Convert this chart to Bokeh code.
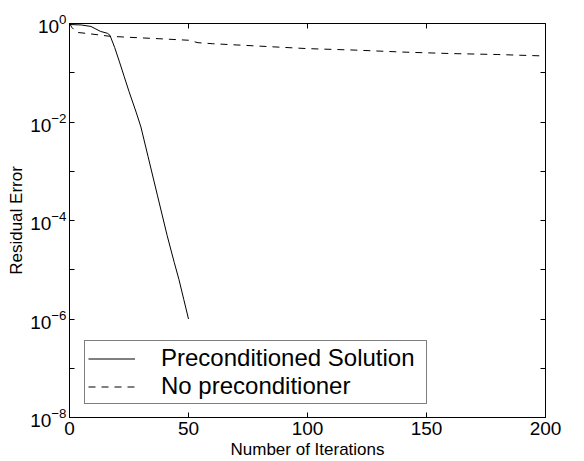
from bokeh.plotting import figure
from bokeh.models import FixedTicker, LinearAxis, LogAxis, Legend, LegendItem, Range1d
from bokeh.embed import file_html
from bokeh.resources import INLINE

# Preconditioned solution: iteration, log10(residual)
pre_iter = [0, 5, 9, 13, 16, 17, 19, 21, 23, 25, 28, 30, 33, 37, 41, 44, 46, 48, 50]
pre_log = [-0.02, -0.03, -0.06, -0.16, -0.2, -0.24, -0.49, -0.78, -1.08, -1.38, -1.8, -2.1, -2.7, -3.5, -4.3, -4.85, -5.2, -5.6, -6.0]

# No preconditioner
nop_iter = [0, 1, 3, 7, 17, 25, 38, 50, 54, 60, 80, 100, 120, 140, 160, 180, 200]
nop_log = [0.0, -0.08, -0.18, -0.2, -0.26, -0.28, -0.31, -0.34, -0.39, -0.41, -0.46, -0.51, -0.54, -0.58, -0.61, -0.63, -0.66]

x_ticks = [0, 50, 100, 150, 200]
y_major = [1e-8, 1e-6, 1e-4, 1e-2, 1e0]
y_minor = [1e-7, 1e-5, 1e-3, 1e-1]

pre_y = [10 ** v for v in pre_log]
nop_y = [10 ** v for v in nop_log]

FONT = "Liberation Sans"

p = figure(width=584, height=461, y_axis_type="log", output_backend="svg",
           toolbar_location=None, x_range=Range1d(0, 200), y_range=Range1d(1e-8, 1),
           min_border_left=69, min_border_right=39, min_border_top=23, min_border_bottom=44,
           background_fill_color="white", border_fill_color="white")
p.grid.visible = False
p.outline_line_color = "black"
p.outline_line_width = 1

r1 = p.line(pre_iter, pre_y, line_color="black", line_width=1)
r2 = p.line(nop_iter, nop_y, line_color="black", line_width=1, line_dash="7 6")

xa = p.xaxis[0]
xa.ticker = FixedTicker(ticks=x_ticks)
xa.axis_label = "Number of Iterations"
ya = p.yaxis[0]
ya.ticker = FixedTicker(ticks=y_major, minor_ticks=y_minor)
ya.axis_label = "Residual Error"

for ax in (xa, ya):
    ax.major_tick_in = 5
    ax.major_tick_out = 0
    ax.minor_tick_in = 5
    ax.minor_tick_out = 0
    ax.axis_line_color = "black"
    ax.major_label_text_font = FONT
    ax.major_label_text_font_size = "19px"
    ax.major_label_text_color = "black"
    ax.axis_label_text_font = FONT
    ax.axis_label_text_font_size = "17px"
    ax.axis_label_text_font_style = "normal"
    ax.axis_label_text_color = "black"
xa.minor_tick_line_color = None
xa.major_label_standoff = 4
xa.axis_label_standoff = 2
ya.major_label_standoff = 3
ya.axis_label_standoff = 1

top = LinearAxis(ticker=FixedTicker(ticks=[50, 100, 150]))
right = LogAxis(ticker=FixedTicker(ticks=y_major[1:-1], minor_ticks=y_minor))
for ax in (top, right):
    ax.major_tick_in = 5
    ax.major_tick_out = 0
    ax.minor_tick_in = 5
    ax.minor_tick_out = 0
    ax.major_label_text_font_size = "1px"
    ax.major_label_text_alpha = 0
    ax.major_label_standoff = 0
    ax.axis_line_color = "black"
top.minor_tick_line_color = None
p.add_layout(top, "above")
p.add_layout(right, "right")

legend = Legend(items=[LegendItem(label="Preconditioned Solution", renderers=[r1]),
                       LegendItem(label="No preconditioner", renderers=[r2])],
                location=(15, 13))
legend.label_text_font = FONT
legend.label_text_font_size = "24px"
legend.label_text_color = "black"
legend.label_height = 21
legend.glyph_height = 21
legend.glyph_width = 47
legend.label_width = 262
legend.label_standoff = 26
legend.spacing = 0
legend.padding = 3
legend.margin = 0
legend.border_line_color = "black"
legend.border_line_width = 1
legend.background_fill_alpha = 1
p.add_layout(legend, "center")

open("out.html", "w").write(file_html(p, INLINE))
